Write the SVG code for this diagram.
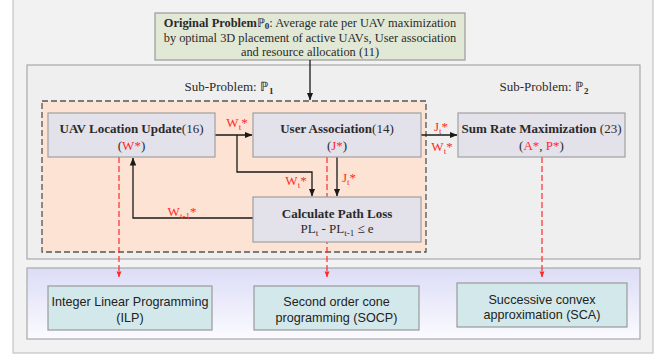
<svg xmlns="http://www.w3.org/2000/svg" width="655" height="358" viewBox="0 0 655 358">
<defs>
<linearGradient id="lav" x1="0" y1="0" x2="0" y2="1">
<stop offset="0" stop-color="#dcdcf7"/>
<stop offset="1" stop-color="#fbfbff"/>
</linearGradient>
<marker id="ab" viewBox="0 0 8 8" refX="7.5" refY="4" markerWidth="8" markerHeight="8" markerUnits="userSpaceOnUse" orient="auto">
<path d="M0,0.8 L8,4 L0,7.2 Z" fill="#1a1a1a"/>
</marker>
<marker id="ar" viewBox="0 0 8 8" refX="7.5" refY="4" markerWidth="6" markerHeight="6" markerUnits="userSpaceOnUse" orient="auto">
<path d="M0,0.8 L8,4 L0,7.2 Z" fill="#ff2a2a"/>
</marker>
</defs>
<style>
.serif{font-family:"Liberation Serif","Times New Roman",serif;font-size:13px;fill:#2a2a2a}
.top{font-size:12.4px}
.sans{font-family:"Liberation Sans",Arial,sans-serif;font-size:12.6px;fill:#222}
.b{font-weight:bold}
.red{fill:#ff2a2a}
.box{fill:#e3e1ea;stroke:#a0a0a0;stroke-width:1.2}
.cyan{fill:#d3e8ea;stroke:#9a9a9a;stroke-width:1.2}
.conn{fill:none;stroke:#1a1a1a;stroke-width:1.3}
.rd{fill:none;stroke:#ff2a2a;stroke-width:1.2;stroke-dasharray:6 3}
.sub{font-size:9px}
</style>
<rect width="655" height="358" fill="#ffffff"/>
<g id="outer">
<rect x="13" y="-5" width="640" height="358" fill="#f2f2f2" stroke="#c4c4c4" stroke-width="1.2"/>
</g>
<g id="subproblems">
<rect x="27" y="65" width="613" height="194" fill="#efefef" stroke="#a8a8a8" stroke-width="1.2"/>
<text class="serif" x="229" y="91" text-anchor="middle" fill="#444">Sub-Problem: ℙ<tspan class="sub b" dy="3">1</tspan></text>
<text class="serif" x="544" y="91" text-anchor="middle" fill="#444">Sub-Problem: ℙ<tspan class="sub b" dy="3">2</tspan></text>
</g>
<g id="p1-region">
<rect x="42" y="101" width="384" height="151" fill="#fce3d3" stroke="#555" stroke-width="1.3" stroke-dasharray="6 3"/>
</g>
<g id="methods">
<rect x="27" y="268" width="613" height="71" fill="url(#lav)" stroke="#a8a8a8" stroke-width="1.2"/>
</g>
<g id="original-problem">
<rect x="155" y="13" width="310" height="47" fill="#e2e8d6" stroke="#999" stroke-width="1.2"/>
<text class="serif top" x="310" y="27" text-anchor="middle"><tspan class="b">Original Problem</tspan>ℙ<tspan class="sub b" dy="2">0</tspan><tspan dy="-2">: Average rate per UAV maximization</tspan></text>
<text class="serif top" x="310" y="42" text-anchor="middle">by optimal 3D placement of active UAVs, User association</text>
<text class="serif top" x="310" y="56" text-anchor="middle">and resource allocation (11)</text>
</g>
<g id="connectors">
<path class="conn" d="M310 60 V100" marker-end="url(#ab)"/>
<path class="conn" d="M215 135 H252" marker-end="url(#ab)"/>
<path class="conn" d="M237 135 V172 H312 V196" marker-end="url(#ab)"/>
<path class="conn" d="M337 157 V196" marker-end="url(#ab)"/>
<path class="conn" d="M253 218 H133 V158" marker-end="url(#ab)"/>
<path class="conn" d="M421 135 H457" marker-end="url(#ab)"/>
<path class="rd" d="M119 157 V277" marker-end="url(#ar)"/>
<path class="rd" d="M327 157 V277" marker-end="url(#ar)"/>
<path class="rd" d="M542 157 V277" marker-end="url(#ar)"/>
<text class="serif red" x="237" y="127" text-anchor="middle">W<tspan class="sub" dy="3">t</tspan><tspan dy="-3">*</tspan></text>
<text class="serif red" x="296" y="185" text-anchor="middle">W<tspan class="sub" dy="3">t</tspan><tspan dy="-3">*</tspan></text>
<text class="serif red" x="349" y="182" text-anchor="middle">J<tspan class="sub" dy="3">t</tspan><tspan dy="-3">*</tspan></text>
<text class="serif red" x="182" y="216" text-anchor="middle">W<tspan class="sub" dy="3">t-1</tspan><tspan dy="-3">*</tspan></text>
<text class="serif red" x="441" y="131" text-anchor="middle">J<tspan class="sub" dy="3">t</tspan><tspan dy="-3">*</tspan></text>
<text class="serif red" x="442" y="151" text-anchor="middle">W<tspan class="sub" dy="3">t</tspan><tspan dy="-3">*</tspan></text>
</g>
<g id="uav-location-update">
<rect class="box" x="48" y="113" width="167" height="44"/>
<text class="serif" x="131.5" y="133" text-anchor="middle"><tspan class="b">UAV Location Update</tspan>(16)</text>
<text class="serif" x="131.5" y="150" text-anchor="middle">(<tspan class="red">W*</tspan>)</text>
</g>
<g id="user-association">
<rect class="box" x="253" y="113" width="168" height="44"/>
<text class="serif" x="337" y="133" text-anchor="middle"><tspan class="b">User Association</tspan>(14)</text>
<text class="serif" x="337" y="150" text-anchor="middle">(<tspan class="red">J*</tspan>)</text>
</g>
<g id="calculate-path-loss">
<rect class="box" x="253" y="197" width="168" height="45"/>
<text class="serif b" x="337" y="218" text-anchor="middle">Calculate Path Loss</text>
<text class="serif" x="337" y="233" text-anchor="middle">PL<tspan class="sub" dy="3">t</tspan><tspan dy="-3"> - PL</tspan><tspan class="sub" dy="3">t-1</tspan><tspan dy="-3"> ≤ e</tspan></text>
</g>
<g id="sum-rate-maximization">
<rect class="box" x="458" y="113" width="167" height="44"/>
<text class="serif" x="541.5" y="133" text-anchor="middle"><tspan class="b">Sum Rate Maximization</tspan> (23)</text>
<text class="serif" x="541.5" y="150" text-anchor="middle">(<tspan class="red">A*</tspan>, <tspan class="red">P*</tspan>)</text>
</g>
<g id="ilp">
<rect class="cyan" x="48" y="286" width="164" height="44"/>
<text class="sans" x="130" y="306" text-anchor="middle">Integer Linear Programming</text>
<text class="sans" x="130" y="322" text-anchor="middle">(ILP)</text>
</g>
<g id="socp">
<rect class="cyan" x="254" y="286" width="165" height="44"/>
<text class="sans" x="336.5" y="306" text-anchor="middle">Second order cone</text>
<text class="sans" x="336.5" y="322" text-anchor="middle">programming (SOCP)</text>
</g>
<g id="sca">
<rect class="cyan" x="457" y="283" width="170" height="44"/>
<text class="sans" x="542" y="304" text-anchor="middle">Successive convex</text>
<text class="sans" x="542" y="319" text-anchor="middle">approximation (SCA)</text>
</g>
</svg>
